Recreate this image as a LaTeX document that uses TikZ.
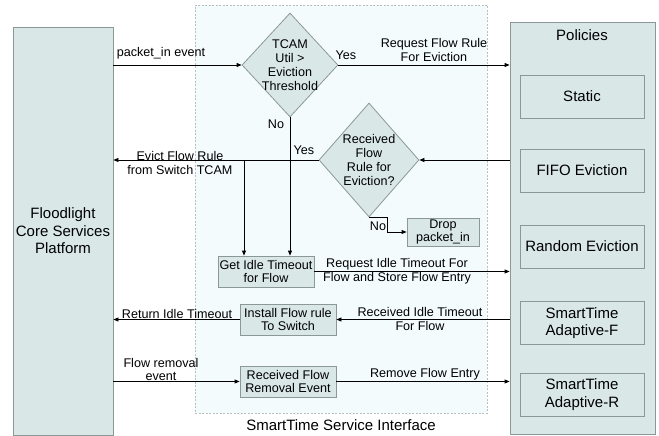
\documentclass[tikz,border=0pt]{standalone}
\usepackage{fontspec}
\setmainfont{Liberation Sans}
\usetikzlibrary{shapes.geometric,arrows.meta,calc}
\definecolor{boxfill}{RGB}{217,231,231}
\definecolor{boxdraw}{RGB}{140,152,152}
\definecolor{panelfill}{RGB}{244,251,253}
\definecolor{paneldraw}{RGB}{185,190,190}
\begin{document}
\begin{tikzpicture}[x=1pt,y=-1pt,
  box/.style={draw=boxdraw,fill=boxfill,line width=0.8pt,inner sep=0pt,align=center},
  small/.style={font=\fontsize{12.6}{13.6}\selectfont},
  big/.style={font=\fontsize{15}{17.5}\selectfont},
  arr/.style={-{Triangle[length=5pt,width=4pt]},line width=0.8pt},
  lbl/.style={small,align=center,inner sep=0pt}]
\useasboundingbox (0,0) rectangle (659,436);
% panel
\node[draw=paneldraw,fill=panelfill,dash pattern=on 2pt off 1.5pt,line width=0.6pt,minimum width=292pt,minimum height=408pt,inner sep=0pt] (panel) at (341,209) {};
\node[big] (paneltitle) at (341,425) {SmartTime Service Interface};
% left
\node[box,big,minimum width=100pt,minimum height=408pt] (flood) at (63,231) {Floodlight\\Core Services\\Platform};
% policies
\node[box,minimum width=145pt,minimum height=412pt] (pol) at (582.5,228) {};
\node[big] (poltitle) at (582,35) {Policies};
\node[box,big,minimum width=124pt,minimum height=43pt] (static) at (582,96.5) {Static};
\node[box,big,minimum width=124pt,minimum height=43pt] (fifo) at (582,170.5) {FIFO Eviction};
\node[box,big,minimum width=124pt,minimum height=43pt] (random) at (582,246.5) {Random Eviction};
\node[box,big,minimum width=124pt,minimum height=43pt] (adf) at (582,323) {SmartTime\\Adaptive-F};
\node[box,big,minimum width=124pt,minimum height=43pt] (adr) at (582,394.5) {SmartTime\\Adaptive-R};
% diamonds
\node[box,diamond,minimum width=96pt,minimum height=104pt] (d1) at (290,65) {};
\node[lbl,font=\fontsize{12.6}{14}\selectfont] (d1t) at (d1) {TCAM\\Util >\\Eviction\\Threshold};
\node[box,diamond,minimum width=100pt,minimum height=114pt] (d2) at (369,160) {};
\node[lbl,font=\fontsize{12.6}{13.8}\selectfont] (d2t) at (d2) {Received\\Flow\\Rule for\\Eviction?};
% process boxes
\node[box,small,minimum width=96pt,minimum height=31pt] (get) at (266,271.5) {Get Idle Timeout\\for Flow};
\node[box,small,minimum width=96pt,minimum height=31pt] (inst) at (288,319.5) {Install Flow rule\\To Switch};
\node[box,small,minimum width=96pt,minimum height=31pt] (recv) at (288,381.5) {Received Flow\\Removal Event};
\node[box,small,minimum width=72pt,minimum height=28pt] (drop) at (443,232) {Drop\\packet\_in};
% connectors
\draw[arr] (d1.west -| flood.east) -- (d1.west);
\draw[arr] (d1.east) -- (d1.east -| pol.west);
\draw[arr] (d2.east -| pol.west) -- (d2.east);
\draw[arr] (d2.west) -- (d2.west -| flood.east);
\coordinate (br) at (244,160);
\draw[arr] (br) -- (br |- get.north);
\draw[arr] (d1.south) -- (d1.south |- get.north);
\draw[arr] (get.east) -- (get.east -| pol.west);
\draw[arr] (inst.east -| pol.west) -- (inst.east);
\draw[arr] (inst.west) -- (inst.west -| flood.east);
\draw[arr] (recv.west -| flood.east) -- (recv.west);
\draw[arr] (recv.east) -- (recv.east -| pol.west);
\coordinate (nb) at (387,217);
\draw[arr] (d2.south) -- (d2.south -| nb) -- (nb |- drop.west) -- (drop.west);
% labels
\node[lbl] (l1) at (161,53) {packet\_in event};
\node[lbl] (l2) at (346,55) {Yes};
\node[lbl] (l3) at (434,50) {Request Flow Rule\\For Eviction};
\node[lbl] (l4) at (180,163) {Evict Flow Rule\\from Switch TCAM};
\node[lbl] (l5) at (276,124) {No};
\node[lbl] (l6) at (304,150) {Yes};
\node[lbl] (l7) at (378,226) {No};
\node[lbl] (l8) at (397,271.5) {Request Idle Timeout For\\Flow and Store Flow Entry};
\node[lbl] (l9) at (420,319) {Received Idle Timeout\\For Flow};
\node[lbl] (l10) at (177,314) {Return Idle Timeout};
\node[lbl] (l11) at (161,369.5) {Flow removal\\event};
\node[lbl] (l12) at (425,374) {Remove Flow Entry};
\end{tikzpicture}
\end{document}
